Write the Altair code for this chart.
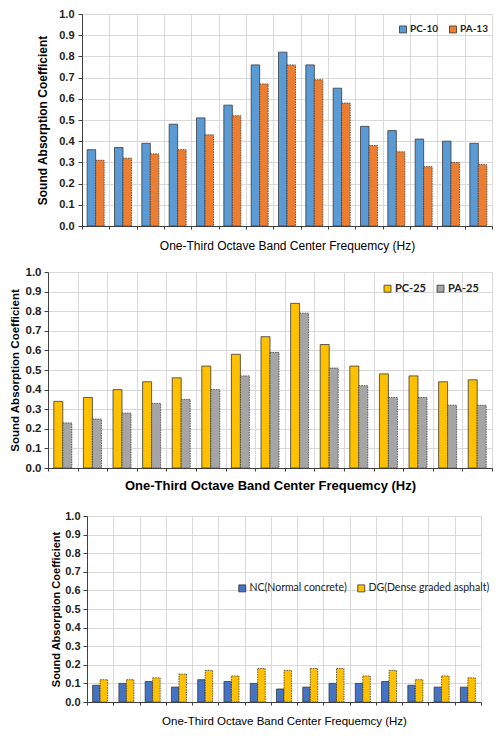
import altair as alt
import pandas as pd

bands = [f"B{i + 1}" for i in range(15)]

pc10 = [0.36, 0.37, 0.39, 0.48, 0.51, 0.57, 0.76, 0.82, 0.76, 0.65, 0.47, 0.45, 0.41, 0.40, 0.39]
pa13 = [0.31, 0.32, 0.34, 0.36, 0.43, 0.52, 0.67, 0.76, 0.69, 0.58, 0.38, 0.35, 0.28, 0.30, 0.29]

pc25 = [0.34, 0.36, 0.40, 0.44, 0.46, 0.52, 0.58, 0.67, 0.84, 0.63, 0.52, 0.48, 0.47, 0.44, 0.45]
pa25 = [0.23, 0.25, 0.28, 0.33, 0.35, 0.40, 0.47, 0.59, 0.79, 0.51, 0.42, 0.36, 0.36, 0.32, 0.32]

nc = [0.09, 0.10, 0.11, 0.08, 0.12, 0.11, 0.10, 0.07, 0.08, 0.10, 0.10, 0.11, 0.09, 0.08, 0.08]
dg = [0.12, 0.12, 0.13, 0.15, 0.17, 0.14, 0.18, 0.17, 0.18, 0.18, 0.14, 0.17, 0.12, 0.14, 0.13]

y_ticks = [round(i * 0.1, 1) for i in range(11)]
y_title = "Sound Absorption Coefficient"
x_title = "One-Third Octave Band Center Frequemcy (Hz)"

FONT = "Liberation Sans"
LEG_FONT = "Lato"


def panel(n1, v1, n2, v2, colors, width, height, st):
    df = pd.DataFrame({
        "band": bands * 2,
        "series": [n1] * len(v1) + [n2] * len(v2),
        "value": v1 + v2,
    })
    base = alt.Chart(df).encode(
        x=alt.X("band:N", sort=bands,
                scale=alt.Scale(paddingInner=0, paddingOuter=0),
                axis=alt.Axis(labels=False, tickBand="extent", grid=True,
                              gridColor="#D9D9D9", gridWidth=1,
                              domainColor="#404040", tickColor="#404040",
                              tickSize=3, title=x_title, titleFont=FONT,
                              titleFontSize=st["xfs"], titleFontWeight=st["xfw"],
                              titleColor="#000", titlePadding=st["xtp"])),
        y=alt.Y("value:Q",
                scale=alt.Scale(domain=[0, 1], nice=False),
                axis=alt.Axis(values=y_ticks, format=".1f", grid=True,
                              gridColor="#D9D9D9", gridWidth=1,
                              domainColor="#404040", tickColor="#404040",
                              tickSize=4, labelPadding=st["lp"],
                              labelFont=FONT, labelFontSize=st["lfs"],
                              labelFontWeight="bold", labelColor="#222",
                              title=y_title, titleFont=FONT,
                              titleFontSize=st["yfs"], titleFontWeight="bold",
                              titleColor="#000", titlePadding=st["ytp"])),
        color=alt.Color("series:N", sort=[n1, n2],
                        scale=alt.Scale(domain=[n1, n2], range=colors),
                        legend=alt.Legend(title=None, orient="none",
                                          legendX=st["lx"], legendY=st["ly"],
                                          direction="horizontal",
                                          symbolType="square", symbolSize=49,
                                          symbolStrokeColor="#333",
                                          symbolStrokeWidth=0.8,
                                          labelFont=LEG_FONT,
                                          labelFontSize=st["gfs"],
                                          labelFontWeight=st["gfw"],
                                          labelColor="#222",
                                          columnPadding=st["gcp"], labelOffset=2)),
    )
    bw = st["bw"]
    l1 = base.transform_filter(alt.datum.series == n1).mark_bar(
        width=bw, xOffset=-bw / 2, stroke="#3a3a3a", strokeWidth=0.8)
    l2 = base.transform_filter(alt.datum.series == n2).mark_bar(
        width=bw, xOffset=bw / 2, stroke="#3a3a3a", strokeWidth=0.8,
        strokeDash=[1.5, 1])
    return alt.layer(l1, l2).properties(width=width, height=height)


def spacer(w):
    return alt.Chart(pd.DataFrame({"v": [0]})).mark_point(size=0, opacity=0).encode(
        x=alt.value(w / 2), y=alt.value(2)
    ).properties(width=w, height=4)


p1 = panel("PC-10", pc10, "PA-13", pa13, ["#5B9BD5", "#ED7D31"], 410, 212,
           dict(xfs=12, xfw="normal", xtp=11, lp=4, lfs=11, yfs=12,
                ytp=9, lx=316, ly=10, gfs=10, gfw="bold", gcp=8, bw=8.5))
p2 = panel("PC-25", pc25, "PA-25", pa25, ["#FFC000", "#A5A5A5"], 444, 196,
           dict(xfs=13, xfw="bold", xtp=7.5, lp=3, lfs=11.5, yfs=11.5,
                ytp=5, lx=334, ly=11, gfs=11, gfw="bold", gcp=9, bw=9))
p3 = panel("NC(Normal concrete)", nc, "DG(Dense graded asphalt)", dg,
           ["#4472C4", "#FFC000"], 394, 186,
           dict(xfs=11.5, xfw="normal", xtp=10, lp=3, lfs=11, yfs=11,
                ytp=3, lx=150, ly=67, gfs=10.5, gfw="normal", gcp=9, bw=7.5))

row1 = alt.hconcat(spacer(28), p1, spacing=0).resolve_scale(color="independent").resolve_legend(color="independent")
row2 = alt.hconcat(spacer(1), p2, spacing=0).resolve_scale(color="independent").resolve_legend(color="independent")
row3 = alt.hconcat(spacer(42), p3, spacing=0).resolve_scale(color="independent").resolve_legend(color="independent")

top = alt.vconcat(row1, row2, spacing=14).resolve_scale(color="independent").resolve_legend(color="independent")

chart = alt.vconcat(top, row3, spacing=18).resolve_scale(
    color="independent").resolve_legend(color="independent").properties(
    padding={"left": 0, "top": 0, "right": 0, "bottom": 0},
    background="white",
).configure_view(stroke=None)

chart.save("out.html", embed_options={"renderer": "svg", "actions": False})
